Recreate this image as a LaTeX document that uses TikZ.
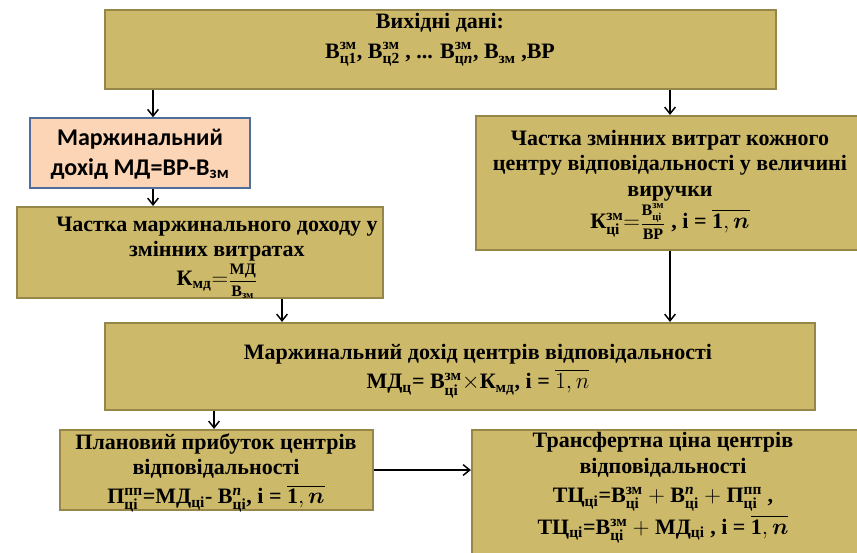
\documentclass[tikz,border=0pt]{standalone}
\usepackage{fontspec}
\usepackage{amsmath}
\setmainfont{Liberation Serif}
\newfontfamily\calfont{Carlito}
\usetikzlibrary{arrows.meta}
\definecolor{gold}{HTML}{CDB96A}
\definecolor{goldline}{HTML}{968649}
\definecolor{peach}{HTML}{FBD5B5}
\definecolor{steel}{HTML}{4F6E9B}
\newcommand{\ssc}[3]{\ensuremath{\text{#1}^{\text{#2}}_{\text{#3}}}}
\newcommand{\onen}{\ensuremath{\overline{\mathbf{1},\boldsymbol{n}}}}
\newcommand{\smallfrac}[2]{{\fontsize{12}{14}\selectfont$\dfrac{#1}{#2}$}}
\begin{document}
\begin{tikzpicture}[x=0.75pt,y=-0.75pt,
  goldbox/.style={draw=goldline,fill=gold,line width=1.6pt,inner sep=0pt},
  txt/.style={align=center,font=\fontsize{16.5}{19}\selectfont\bfseries},
  arr/.style={-{Straight Barb[length=5pt,width=8pt]},line width=1.1pt}]
\useasboundingbox (0,0) rectangle (857,553);

% boxes
\node[goldbox,minimum width=671*0.75pt,minimum height=79*0.75pt] (src) at (440.5,49.5) {};
\node[draw=steel,fill=peach,line width=1.2pt,minimum width=220*0.75pt,minimum height=70*0.75pt] (md) at (140,153) {};
\node[goldbox,minimum width=386*0.75pt,minimum height=134*0.75pt] (share) at (669,183) {};
\node[goldbox,minimum width=366*0.75pt,minimum height=91*0.75pt] (kmd) at (200,252.5) {};
\node[goldbox,minimum width=710*0.75pt,minimum height=87*0.75pt] (mdc) at (460,366.5) {};
\node[goldbox,minimum width=313*0.75pt,minimum height=80*0.75pt] (plan) at (216.5,470) {};
\node[goldbox,minimum width=390*0.75pt,minimum height=130*0.75pt] (tc) at (667,495) {};

% texts
\node[txt] (srct) at (440,40) {Вихідні дані:\\[3pt]
  \ssc{В}{зм}{ц1}, \ssc{В}{зм}{ц2} , ... \ssc{В}{зм}{ц\textit{n}}, \ssc{В}{}{зм} ,ВР};
\node[align=center,font=\fontsize{18}{22.5}\selectfont\calfont\bfseries] (mdt) at (140,154)
  {Маржинальний\\ дохід МД=ВР-В$_{\text{зм}}$};
\node[txt] (sharet) at (670,185) {Частка змінних витрат кожного\\
  центру відповідальності у величині\\ виручки\\[1pt]
  \ssc{К}{зм}{ці}$=$\smallfrac{\text{В}^{\text{зм}}_{\vphantom{\text{Й}}\text{ці}}}{\text{ВР}} , і = \onen};
\node[txt] (kmdt) at (217,258) {Частка маржинального доходу у\\ змінних витратах\\[1pt]
  К$_{\text{мд}}$$=$\smallfrac{\text{МД}}{\text{В}_{\text{зм}}}};
\node[txt] (mdct) at (478,371) {Маржинальний дохід центрів відповідальності\\[3pt]
  МД$_{\text{ц}}$= \ssc{В}{зм}{ці}$\times$К$_{\text{мд}}$, і = $\overline{1,n}$};
\node[txt] (plant) at (216,473) {Плановий прибуток центрів\\ відповідальності\\[3pt]
  \ssc{П}{пп}{ці}=МД$_{\text{ці}}$- \ssc{В}{\textit{n}}{ці}, і = \onen};
\node[txt] (tct) at (663,488) {Трансфертна ціна центрів\\ відповідальності\\[3pt]
  ТЦ$_{\text{ці}}$=\ssc{В}{зм}{ці} $+$ \ssc{В}{\textit{n}}{ці} $+$ \ssc{П}{пп}{ці} ,\\[2pt]
  ТЦ$_{\text{ці}}$=\ssc{В}{зм}{ці} $+$ МД$_{\text{ці}}$ , і = \onen};

% arrows
\coordinate (xa) at (153,0);
\coordinate (xb) at (670,0);
\coordinate (xc) at (282,0);
\coordinate (xd) at (214,0);
\draw[arr] (src.south -| xa) -- (md.north -| xa);
\draw[arr] (src.south -| xb) -- (share.north -| xb);
\draw[arr] (md.south -| xa) -- (kmd.north -| xa);
\draw[arr] (kmd.south -| xc) -- (mdc.north -| xc);
\draw[arr] (share.south -| xb) -- (mdc.north -| xb);
\draw[arr] (mdc.south -| xd) -- (plan.north -| xd);
\draw[arr] (plan.east) -- (tc.west |- plan.east);
\end{tikzpicture}
\end{document}
